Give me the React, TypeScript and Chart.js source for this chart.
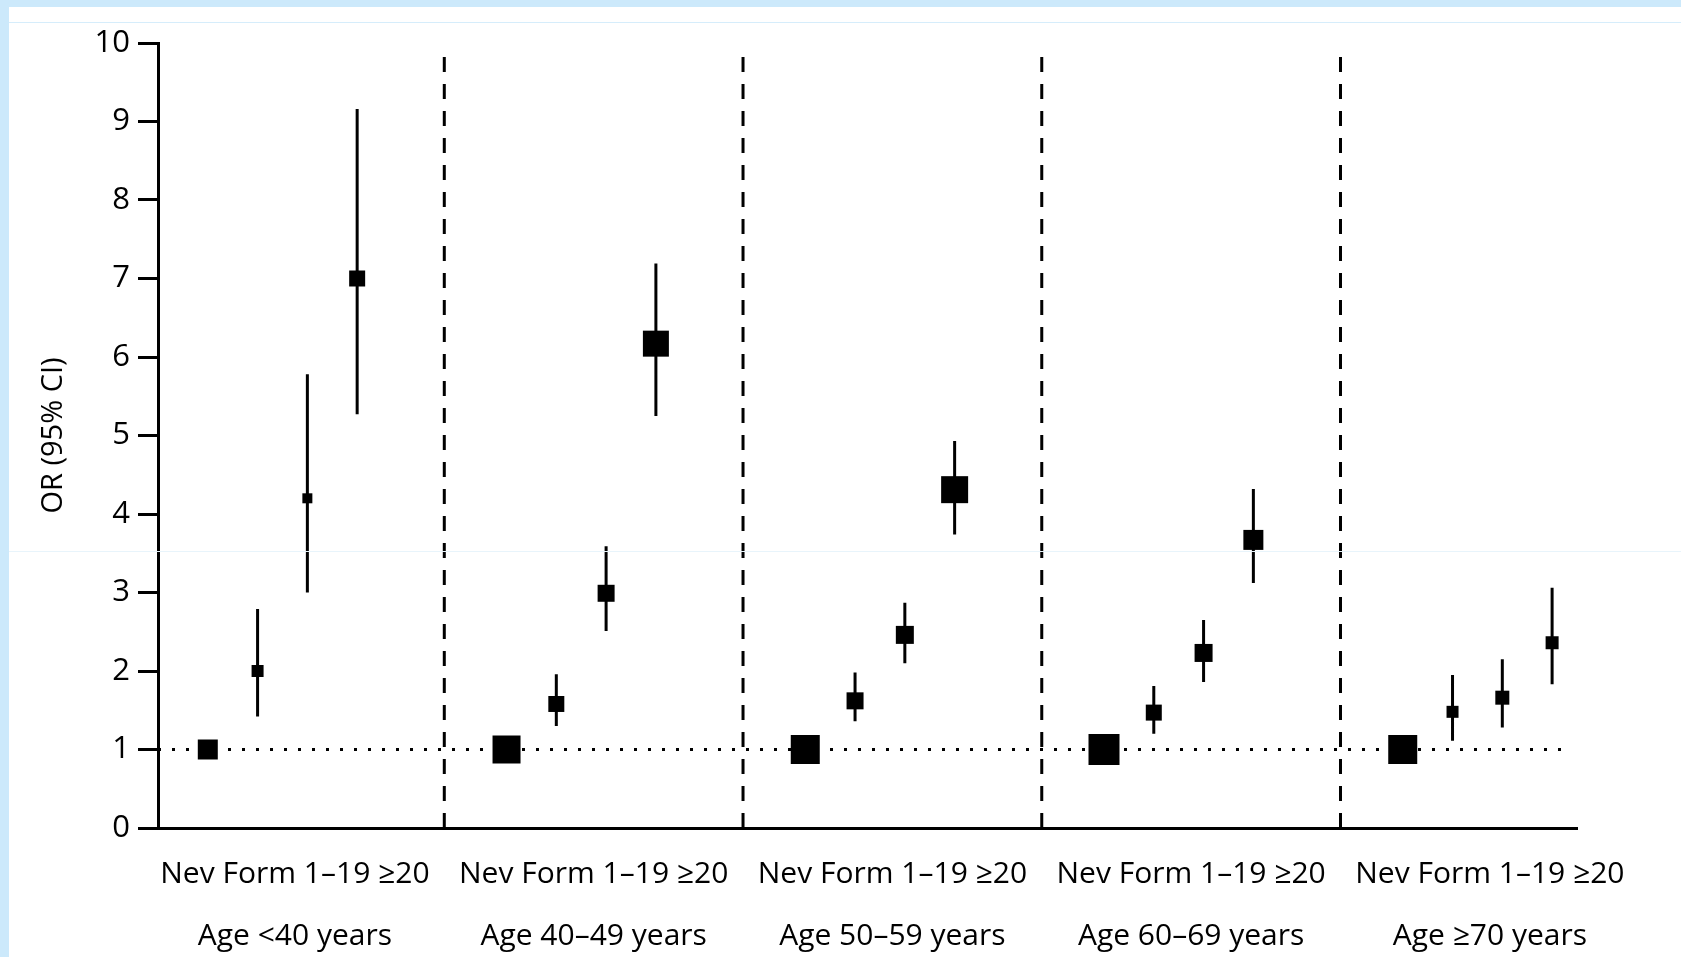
import React, { useEffect, useRef } from 'react';
import { Chart, registerables } from 'chart.js';

Chart.register(...registerables);

// Exposure levels plotted inside each age band: never, former, 1–19/day, ≥20/day
const exposureLevels = ['Nev', 'Form', '1–19', '≥20'];
const exposureCaption = 'Nev Form 1–19 ≥20';
const ageGroups = ['Age <40 years', 'Age 40–49 years', 'Age 50–59 years', 'Age 60–69 years', 'Age ≥70 years'];

// Odds ratios with 95% CI (never = reference, no interval)
const orLt40 = [1.0, 2.0, 4.2, 7.0];
const loLt40 = [null, 1.42, 3.0, 5.27];
const hiLt40 = [null, 2.79, 5.78, 9.16];

const or40s = [1.0, 1.58, 2.99, 6.17];
const lo40s = [null, 1.3, 2.51, 5.25];
const hi40s = [null, 1.96, 3.59, 7.19];

const or50s = [1.0, 1.62, 2.46, 4.31];
const lo50s = [null, 1.36, 2.1, 3.74];
const hi50s = [null, 1.98, 2.87, 4.93];

const or60s = [1.0, 1.47, 2.23, 3.67];
const lo60s = [null, 1.2, 1.86, 3.12];
const hi60s = [null, 1.81, 2.65, 4.32];

const orGe70 = [1.0, 1.48, 1.66, 2.36];
const loGe70 = [null, 1.11, 1.28, 1.83];
const hiGe70 = [null, 1.95, 2.15, 3.06];

// Square side (px) reflecting each estimate's weight
const weightLt40 = [20, 12, 10, 16];
const weight40s = [28, 16, 17, 26];
const weight50s = [29, 17, 18, 27];
const weight60s = [31, 16, 18, 20];
const weightGe70 = [29, 12, 14, 13];

const yTicks = [0, 1, 2, 3, 4, 5, 6, 7, 8, 9, 10];

const GROUP_SPAN = 6;
const LABEL_OFFSET = 1.75;
const DIVIDER_OFFSET = -1.25;
const X_MIN = -1;
const X_MAX = 27.5;
const REF_LINE_END = 27.3;
const DIVIDER_TOP = 9.95;

const groups = [
  { or: orLt40, lo: loLt40, hi: hiLt40, weight: weightLt40 },
  { or: or40s, lo: lo40s, hi: hi40s, weight: weight40s },
  { or: or50s, lo: lo50s, hi: hi50s, weight: weight50s },
  { or: or60s, lo: lo60s, hi: hi60s, weight: weight60s },
  { or: orGe70, lo: loGe70, hi: hiGe70, weight: weightGe70 },
];

const FONT = "'Open Sans', 'Noto Sans', 'DejaVu Sans', sans-serif";

export default function App() {
  const canvasRef = useRef<HTMLCanvasElement | null>(null);

  useEffect(() => {
    const canvas = canvasRef.current;
    if (!canvas) return;

    const estimates: { x: number; y: number }[] = [];
    const sides: number[] = [];
    const intervals: { x: number; y: number | null }[] = [];
    groups.forEach((grp, g) => {
      exposureLevels.forEach((_, i) => {
        const x = g * GROUP_SPAN + i;
        estimates.push({ x, y: grp.or[i] });
        sides.push(grp.weight[i]);
        const lo = grp.lo[i];
        const hi = grp.hi[i];
        if (lo !== null && hi !== null) {
          intervals.push({ x, y: lo }, { x, y: hi }, { x, y: null });
        }
      });
    });

    const dividers: { x: number; y: number | null }[] = [];
    for (let g = 1; g < groups.length; g++) {
      const x = g * GROUP_SPAN + DIVIDER_OFFSET;
      dividers.push({ x, y: 0 }, { x, y: DIVIDER_TOP }, { x, y: null });
    }

    const chart = new Chart(canvas, {
      type: 'scatter',
      data: {
        datasets: [
          {
            label: 'OR',
            data: estimates,
            order: 0,
            pointStyle: 'rect',
            pointRadius: sides.map((s) => s / Math.SQRT2),
            backgroundColor: '#000',
            borderWidth: 0,
          },
          {
            label: '95% CI',
            data: intervals,
            order: 1,
            showLine: true,
            spanGaps: false,
            pointRadius: 0,
            borderColor: '#000',
            borderWidth: 3,
          },
          {
            label: 'OR = 1',
            data: [
              { x: X_MIN, y: 1 },
              { x: REF_LINE_END, y: 1 },
            ],
            order: 2,
            showLine: true,
            pointRadius: 0,
            borderColor: '#000',
            borderWidth: 3,
            borderDash: [3, 11],
          },
          {
            label: 'age bands',
            data: dividers,
            order: 3,
            showLine: true,
            spanGaps: false,
            pointRadius: 0,
            borderColor: '#000',
            borderWidth: 3,
            borderDash: [15, 12],
          },
        ],
      },
      options: {
        animation: false,
        responsive: false,
        devicePixelRatio: 1,
        events: [],
        layout: { padding: { left: 0, top: 43, right: 104, bottom: 0 } },
        plugins: {
          legend: { display: false },
          tooltip: { enabled: false },
        },
        scales: {
          x: {
            type: 'linear',
            min: X_MIN,
            max: X_MAX,
            grid: { display: false },
            border: { display: true, color: '#000', width: 3 },
            afterBuildTicks: (axis: any) => {
              axis.ticks = ageGroups.map((_, g) => ({ value: g * GROUP_SPAN + LABEL_OFFSET }));
            },
            afterFit: (axis: any) => {
              axis.height = 129;
            },
            ticks: {
              autoSkip: false,
              maxRotation: 0,
              minRotation: 0,
              padding: 7,
              color: '#000',
              font: { family: FONT, size: 30, lineHeight: 62 / 30 },
              callback: (value: any) => {
                const g = Math.round((Number(value) - LABEL_OFFSET) / GROUP_SPAN);
                return [exposureCaption, ageGroups[g]];
              },
            },
          },
          y: {
            type: 'linear',
            min: 0,
            max: 10,
            afterBuildTicks: (axis: any) => {
              axis.ticks = yTicks.map((v) => ({ value: v }));
            },
            afterFit: (axis: any) => {
              axis.width = 158;
            },
            grid: {
              drawOnChartArea: false,
              drawTicks: true,
              tickLength: 20,
              lineWidth: 3,
              color: '#000',
            },
            border: { display: true, color: '#000', width: 3 },
            ticks: {
              padding: 8,
              color: '#000',
              font: { family: FONT, size: 31 },
            },
            title: {
              display: true,
              text: 'OR (95% CI)',
              color: '#000',
              font: { family: FONT, size: 29 },
              padding: { top: 36, bottom: 0 },
            },
          },
        },
      },
    });

    return () => chart.destroy();
  }, []);

  return (
    <div
      style={{
        position: 'fixed',
        left: 0,
        top: 0,
        width: 1681,
        height: 957,
        background: '#fff',
        overflow: 'hidden',
      }}
    >
      <canvas ref={canvasRef} width={1681} height={957} style={{ position: 'absolute', left: 0, top: 0 }} />
      <div style={{ position: 'absolute', left: 0, top: 0, width: 1681, height: 7, background: '#cce9fb' }} />
      <div style={{ position: 'absolute', left: 0, top: 22, width: 1681, height: 1, background: '#d6edfb' }} />
      <div style={{ position: 'absolute', left: 0, top: 551, width: 1681, height: 1, background: '#e8f4fb' }} />
      <div style={{ position: 'absolute', left: 0, top: 0, width: 9, height: 957, background: '#cce9fb' }} />
    </div>
  );
}
